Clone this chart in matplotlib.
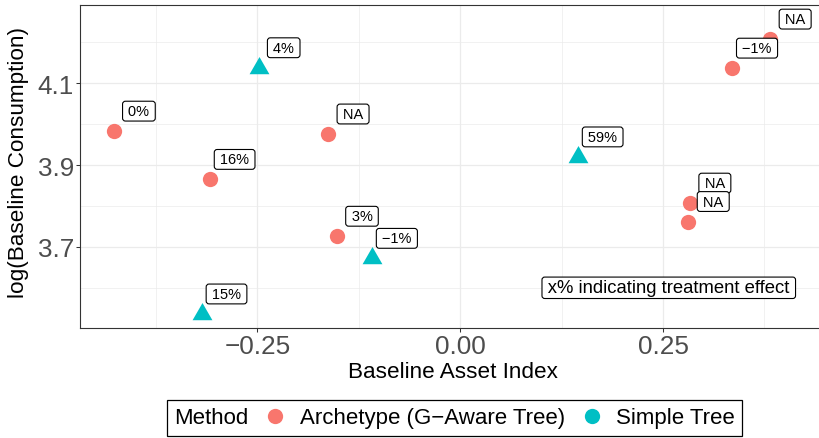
import numpy as np
import matplotlib
matplotlib.use("Agg")
import matplotlib.pyplot as plt
from matplotlib.lines import Line2D

plt.rcParams['font.family'] = ['Liberation Sans', 'DejaVu Sans']

# Archetype (G-Aware Tree) points
arch_x = [-0.427, -0.309, -0.163, -0.152, 0.382, 0.335, 0.283, 0.281]
arch_y = [3.983, 3.865, 3.976, 3.726, 4.208, 4.137, 3.807, 3.762]
arch_lab = ['0%', '16%', 'NA', '3%', 'NA', '\u22121%', 'NA', 'NA']

# Simple Tree points
simple_x = [-0.2485, 0.1447, -0.109, -0.319]
simple_y = [4.138, 3.920, 3.672, 3.536]
simple_lab = ['4%', '59%', '\u22121%', '15%']

xticks = [-0.25, 0.0, 0.25]
xtick_lab = ['\u22120.25', '0.00', '0.25']
yticks = [3.7, 3.9, 4.1]

red = '#F8766D'
teal = '#00BFC4'

fig = plt.figure(figsize=(8.19, 4.39), dpi=100)
ax = fig.add_axes([80/819, 1-329/439, 745/819, 323/439])

# equilateral triangle like R pch 17
tri = [(0, 1), (-0.866, -0.5), (0.866, -0.5), (0, 1)]

ax.plot(arch_x, arch_y, 'o', color=red, ms=11, mec='none', zorder=3)
ax.plot(simple_x, simple_y, marker=tri, ls='none', color=teal, ms=16.5, mec='none', zorder=3)

sp = '\u2009'
box = dict(boxstyle='round,pad=0.2,rounding_size=0.2', fc='white', ec='black', lw=0.8)
for x, y, s in zip(arch_x + simple_x, arch_y + simple_y, arch_lab + simple_lab):
    ax.annotate(sp + s + sp, (x, y), xytext=(18, 14.4), textcoords='offset points',
                ha='center', va='center', fontsize=10.5, bbox=box, zorder=4)

box2 = dict(boxstyle='round,pad=0.12,rounding_size=0.15', fc='white', ec='black', lw=0.8)
ax.text(0.257, 3.6, sp + 'x% indicating treatment effect' + sp, ha='center', va='center',
        fontsize=13.3, bbox=box2, zorder=4)

ax.set_xlim(-0.4688, 0.4496)
ax.set_ylim(3.5017, 4.2914)
ax.set_xticks(xticks)
ax.set_xticklabels(xtick_lab)
ax.set_yticks(yticks)
ax.set_xticks([-0.375, -0.125, 0.125, 0.375], minor=True)
ax.set_yticks([3.6, 3.8, 4.0, 4.2], minor=True)
ax.grid(which='major', color='#EBEBEB', lw=0.9)
ax.grid(which='minor', color='#EBEBEB', lw=0.5)
ax.set_axisbelow(True)
ax.tick_params(which='major', length=2.75, width=0.75, color='#333333',
               labelsize=18.8, labelcolor='#4D4D4D', pad=1.5)
ax.tick_params(which='minor', length=0)
for s in ax.spines.values():
    s.set_color('#333333')
    s.set_linewidth(0.8)
ax.spines['right'].set_visible(False)  # panel runs past the image edge

ax.set_xlabel('Baseline Asset Index', fontsize=16.2, labelpad=2)
ax.set_ylabel('log(Baseline Consumption)', fontsize=16.2)
ax.yaxis.set_label_coords(-0.0685, 0.515)

handles = [Line2D([], [], marker='o', ls='none', color=red, ms=11, mec='none', label='Archetype (G\u2212Aware Tree)'),
           Line2D([], [], marker='o', ls='none', color=teal, ms=11, mec='none', label='Simple Tree')]
leg = fig.legend(handles=handles, loc='center', bbox_to_anchor=(0.555, 0.0456), ncol=2,
                 title='Method', fontsize=16, title_fontsize=16, frameon=True, fancybox=False,
                 edgecolor='black', framealpha=1, borderpad=0.35, handlelength=1.0,
                 handletextpad=0.6, columnspacing=0.7, borderaxespad=0)
leg.get_frame().set_linewidth(0.9)
# put the title on the same row as the keys, like ggplot
vbox = leg._legend_box
title_box = vbox._children[0]
hbox = vbox._children[1]
vbox._children = [hbox]
hbox._children = [title_box] + hbox._children
hbox.align = 'center'

fig.savefig('out.png', dpi=100)
